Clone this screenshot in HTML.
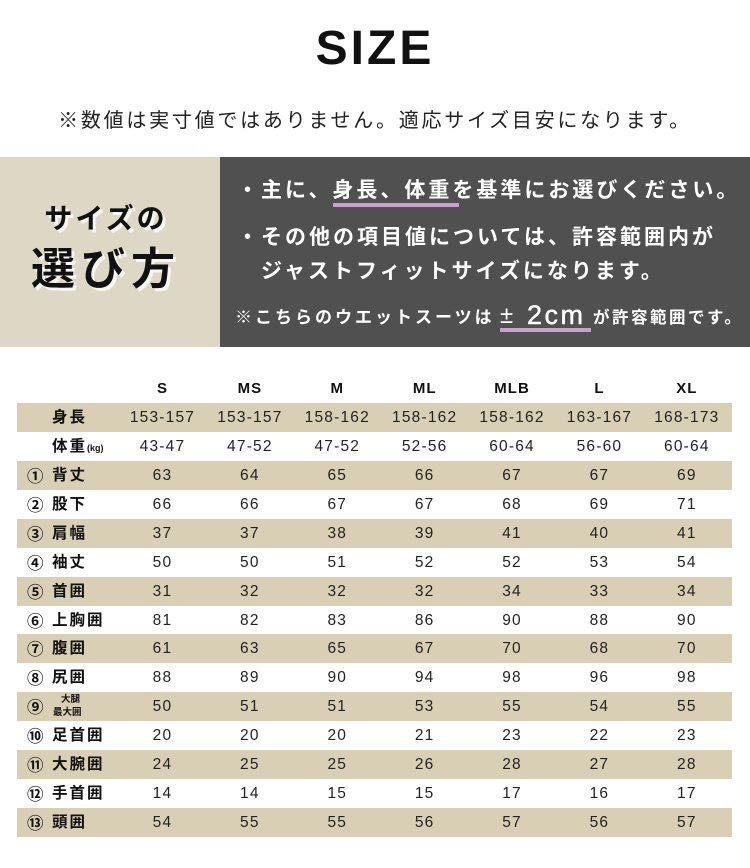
<!DOCTYPE html>
<html><head><meta charset="utf-8">
<style>
*{margin:0;padding:0;box-sizing:border-box}
html,body{width:750px;height:868px;background:#fff;overflow:hidden}
body{position:relative;font-family:"Liberation Sans","Noto Sans CJK JP",sans-serif;color:#222}
.abs{position:absolute;white-space:nowrap}
.title{left:0;width:750px;top:25px;text-align:center;font-size:48px;line-height:48px;font-weight:bold;letter-spacing:3px;color:#111;font-family:"Liberation Sans",sans-serif}
.sub{left:0;width:750px;top:110px;text-align:center;font-size:20px;line-height:22px;letter-spacing:2.75px;color:#222;font-weight:400}
.pl{left:0;top:157px;width:220px;height:190px;background:#ddd7c5}
.pr{left:220px;top:157px;width:530px;height:190px;background:#505050}
.lt{left:0;width:212px;text-align:center;font-weight:bold;color:#111;text-shadow:3px 3px 0 #f7f6f2}
.w{color:#fff;font-weight:bold}
.ul{background:#c8a0cc;height:4px}
.row{position:absolute;left:17px;width:715px;height:29px;display:flex;align-items:center}
.band{background:#d8cfb5}
.lab{width:101.8px;height:29px;position:relative;flex:none}
.c{width:87.4px;text-align:center;flex:none;font-size:15.5px;letter-spacing:1.2px;color:#222;line-height:29px}
.hd .c{font-weight:bold;font-size:15px;letter-spacing:1px;color:#111}
.num{position:absolute;left:10px;top:0;line-height:29px;font-size:16.5px;font-weight:bold;color:#111;font-family:"Noto Sans CJK JP",sans-serif}
.jp{position:absolute;left:35px;top:0;line-height:29px;font-size:15.5px;font-weight:bold;letter-spacing:2px;color:#111}
</style></head><body>
<div class="abs title">SIZE</div>
<div class="abs sub">※数値は実寸値ではありません。適応サイズ目安になります。</div>

<div class="abs pl"></div>
<div class="abs pr"></div>
<div class="abs lt" style="top:202px;font-size:28px;line-height:34px;letter-spacing:3px">サイズの</div>
<div class="abs lt" style="top:245px;font-size:44px;line-height:50px;letter-spacing:6px">選び方</div>

<div class="abs w" style="left:237px;top:179px;font-size:21px;line-height:24px;letter-spacing:3px">・主に、身長、体重を基準にお選びください。</div>
<div class="abs ul" style="left:333px;top:203px;width:126px"></div>
<div class="abs w" style="left:237px;top:226px;font-size:21px;line-height:24px;letter-spacing:3px">・その他の項目値については、許容範囲内が</div>
<div class="abs w" style="left:261px;top:260px;font-size:21px;line-height:24px;letter-spacing:3px">ジャストフィットサイズになります。</div>
<div class="abs w" style="left:235px;top:308px;font-size:17px;line-height:20px;letter-spacing:3px">※こちらのウエットスーツは</div>
<div class="abs w" style="left:500px;top:302px;font-size:24px;line-height:28px;font-weight:normal">±</div>
<div class="abs w" style="left:527px;top:299px;font-size:27px;line-height:32px;letter-spacing:2.5px;font-weight:normal;-webkit-text-stroke:0.5px #fff">2cm</div>
<div class="abs ul" style="left:500px;top:328px;width:91px"></div>
<div class="abs w" style="left:593px;top:308px;font-size:16.5px;line-height:20px;letter-spacing:2.5px">が許容範囲です。</div>

<div class="row hd" style="top:374px"><div class="lab"></div><div class="c">S</div><div class="c">MS</div><div class="c">M</div><div class="c">ML</div><div class="c">MLB</div><div class="c">L</div><div class="c">XL</div></div>

<div class="row band" style="top:403px"><div class="lab"><span class="jp">身長</span></div><div class="c">153-157</div><div class="c">153-157</div><div class="c">158-162</div><div class="c">158-162</div><div class="c">158-162</div><div class="c">163-167</div><div class="c">168-173</div></div>
<div class="row" style="top:431.9px"><div class="lab"><span class="jp">体重<span style="font-size:9px;letter-spacing:0">(kg)</span></span></div><div class="c">43-47</div><div class="c">47-52</div><div class="c">47-52</div><div class="c">52-56</div><div class="c">60-64</div><div class="c">56-60</div><div class="c">60-64</div></div>
<div class="row band" style="top:460.9px"><div class="lab"><span class="num">①</span><span class="jp">背丈</span></div><div class="c">63</div><div class="c">64</div><div class="c">65</div><div class="c">66</div><div class="c">67</div><div class="c">67</div><div class="c">69</div></div>
<div class="row" style="top:489.8px"><div class="lab"><span class="num">②</span><span class="jp">股下</span></div><div class="c">66</div><div class="c">66</div><div class="c">67</div><div class="c">67</div><div class="c">68</div><div class="c">69</div><div class="c">71</div></div>
<div class="row band" style="top:518.7px"><div class="lab"><span class="num">③</span><span class="jp">肩幅</span></div><div class="c">37</div><div class="c">37</div><div class="c">38</div><div class="c">39</div><div class="c">41</div><div class="c">40</div><div class="c">41</div></div>
<div class="row" style="top:547.7px"><div class="lab"><span class="num">④</span><span class="jp">袖丈</span></div><div class="c">50</div><div class="c">50</div><div class="c">51</div><div class="c">52</div><div class="c">52</div><div class="c">53</div><div class="c">54</div></div>
<div class="row band" style="top:576.6px"><div class="lab"><span class="num">⑤</span><span class="jp">首囲</span></div><div class="c">31</div><div class="c">32</div><div class="c">32</div><div class="c">32</div><div class="c">34</div><div class="c">33</div><div class="c">34</div></div>
<div class="row" style="top:605.5px"><div class="lab"><span class="num">⑥</span><span class="jp">上胸囲</span></div><div class="c">81</div><div class="c">82</div><div class="c">83</div><div class="c">86</div><div class="c">90</div><div class="c">88</div><div class="c">90</div></div>
<div class="row band" style="top:634.4px"><div class="lab"><span class="num">⑦</span><span class="jp">腹囲</span></div><div class="c">61</div><div class="c">63</div><div class="c">65</div><div class="c">67</div><div class="c">70</div><div class="c">68</div><div class="c">70</div></div>
<div class="row" style="top:663.4px"><div class="lab"><span class="num">⑧</span><span class="jp">尻囲</span></div><div class="c">88</div><div class="c">89</div><div class="c">90</div><div class="c">94</div><div class="c">98</div><div class="c">96</div><div class="c">98</div></div>
<div class="row band" style="top:692.3px"><div class="lab"><span class="num">⑨</span><span class="abs" style="left:44px;top:2px;font-size:9.5px;line-height:12px;font-weight:bold;color:#111">大腿</span><span class="abs" style="left:36px;top:15px;font-size:9.5px;line-height:12px;font-weight:bold;color:#111">最大囲</span></div><div class="c">50</div><div class="c">51</div><div class="c">51</div><div class="c">53</div><div class="c">55</div><div class="c">54</div><div class="c">55</div></div>
<div class="row" style="top:721.2px"><div class="lab"><span class="num">⑩</span><span class="jp">足首囲</span></div><div class="c">20</div><div class="c">20</div><div class="c">20</div><div class="c">21</div><div class="c">23</div><div class="c">22</div><div class="c">23</div></div>
<div class="row band" style="top:750.2px"><div class="lab"><span class="num">⑪</span><span class="jp">大腕囲</span></div><div class="c">24</div><div class="c">25</div><div class="c">25</div><div class="c">26</div><div class="c">28</div><div class="c">27</div><div class="c">28</div></div>
<div class="row" style="top:779.1px"><div class="lab"><span class="num">⑫</span><span class="jp">手首囲</span></div><div class="c">14</div><div class="c">14</div><div class="c">15</div><div class="c">15</div><div class="c">17</div><div class="c">16</div><div class="c">17</div></div>
<div class="row band" style="top:808px"><div class="lab"><span class="num">⑬</span><span class="jp">頭囲</span></div><div class="c">54</div><div class="c">55</div><div class="c">55</div><div class="c">56</div><div class="c">57</div><div class="c">56</div><div class="c">57</div></div>
</body></html>
